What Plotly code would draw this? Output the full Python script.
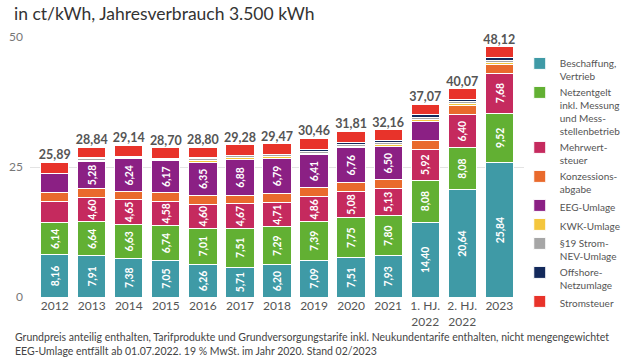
import plotly.graph_objects as go

categories = ["2012", "2013", "2014", "2015", "2016", "2017", "2018", "2019",
              "2020", "2021", "1. HJ.<br>2022", "2. HJ.<br>2022", "2023"]

beschaffung = [8.16, 7.91, 7.38, 7.05, 6.26, 5.71, 6.20, 7.09, 7.51, 7.93, 14.40, 20.64, 25.84]
netzentgelt = [6.14, 6.64, 6.63, 6.74, 7.01, 7.51, 7.29, 7.39, 7.75, 7.80, 8.08, 8.08, 9.52]
mehrwertsteuer = [4.13, 4.60, 4.65, 4.58, 4.60, 4.67, 4.71, 4.86, 5.08, 5.13, 5.92, 6.40, 7.68]
konzession = [1.67, 1.66, 1.66, 1.66, 1.66, 1.66, 1.66, 1.66, 1.66, 1.66, 1.66, 1.66, 1.66]
eeg = [3.59, 5.28, 6.24, 6.17, 6.35, 6.88, 6.79, 6.41, 6.76, 6.50, 3.72, 0.0, 0.0]
kwk = [0.002, 0.126, 0.178, 0.254, 0.445, 0.438, 0.345, 0.280, 0.226, 0.254, 0.378, 0.378, 0.357]
par19 = [0.151, 0.329, 0.092, 0.237, 0.378, 0.388, 0.370, 0.305, 0.358, 0.432, 0.437, 0.437, 0.417]
offshore = [0.0, 0.250, 0.250, 0.0, 0.040, 0.0, 0.037, 0.416, 0.416, 0.395, 0.419, 0.419, 0.591]
stromsteuer = [2.05] * 13
totals = [25.89, 28.84, 29.14, 28.70, 28.80, 29.28, 29.47, 30.46, 31.81, 32.16, 37.07, 40.07, 48.12]

series = [
    ("Beschaffung,<br>Vertrieb", beschaffung, "#3f9aa6", True),
    ("Netzentgelt<br>inkl. Messung<br>und Mess-<br>stellenbetrieb", netzentgelt, "#62b033", True),
    ("Mehrwert-<br>steuer", mehrwertsteuer, "#c52a5e", True),
    ("Konzessions-<br>abgabe", konzession, "#e96a2c", False),
    ("EEG-Umlage", eeg, "#8b2084", True),
    ("KWK-Umlage", kwk, "#f4c63d", False),
    ("§19 Strom-<br>NEV-Umlage", par19, "#a6a6a6", False),
    ("Offshore-<br>Netzumlage", offshore, "#13295b", False),
    ("Stromsteuer", stromsteuer, "#e8332a", False),
]

def fmt(v):
    return f"{v:.2f}".replace(".", ",")

FONT = "Lato"
fig = go.Figure()
for name, vals, color, labelled in series:
    texts = [fmt(v) if (labelled and v >= 4.5) else "" for v in vals]
    fig.add_trace(go.Bar(
        x=categories, y=vals, name=name,
        marker=dict(color=color, line=dict(color="#ffffff", width=1)),
        text=texts, textposition="inside", textangle=-90,
        insidetextanchor="middle",
        textfont=dict(color="white", size=11, family=FONT, weight="bold"),
        hoverinfo="skip",
    ))

fig.add_trace(go.Scatter(
    x=categories, y=totals, mode="text",
    text=[fmt(v) for v in totals], textposition="top center",
    textfont=dict(color="#555555", size=12.5, family=FONT, weight="bold"),
    showlegend=False, cliponaxis=False, hoverinfo="skip",
))

fig.update_layout(
    width=630, height=360,
    margin=dict(l=30, r=106, t=37, b=63, autoexpand=False),
    barmode="stack", bargap=0.238,
    plot_bgcolor="white", paper_bgcolor="white",
    font=dict(family=FONT, color="#444444"),
    uniformtext=dict(minsize=10, mode="show"),
    showlegend=True,
    legend=dict(
        traceorder="normal", xref="container", yref="container",
        x=0.825, xanchor="left", y=0.86, yanchor="top",
        font=dict(size=10, color="#555555", family=FONT),
        valign="top", itemwidth=30, maxheight=330,
        bgcolor="rgba(0,0,0,0)",
    ),
    xaxis=dict(
        type="category", showgrid=False, showline=False, ticks="",
        tickfont=dict(size=12, color="#555555"), ticklabelstandoff=0,
    ),
    yaxis=dict(
        range=[0, 50], tickvals=[0, 25, 50], showgrid=True,
        gridcolor="#e3e3e3", gridwidth=1, zeroline=False, showline=False,
        tickfont=dict(size=12, color="#777777"), ticks="", ticklabelstandoff=6,
    ),
    annotations=[
        dict(text="in ct/kWh, Jahresverbrauch 3.500 kWh", xref="paper", yref="paper",
             x=-0.037, y=1.0, yshift=36, xanchor="left", yanchor="top",
             showarrow=False, font=dict(size=17.5, color="#333333", family=FONT)),
        dict(text="Grundpreis anteilig enthalten, Tarifprodukte und Grundversorgungstarife inkl. Neukundentarife enthalten, nicht mengengewichtet<br>"
                  "EEG-Umlage entfällt ab 01.07.2022. 19 % MwSt. im Jahr 2020. Stand 02/2023",
             xref="paper", yref="paper", x=-0.035, y=0, yshift=-32,
             xanchor="left", yanchor="top", align="left", showarrow=False,
             font=dict(size=10.5, color="#444444", family=FONT)),
    ],
)

fig.write_html("out.html", config={"displayModeBar": False},
               post_script="document.body.style.margin='0';document.body.style.overflow='hidden';")
